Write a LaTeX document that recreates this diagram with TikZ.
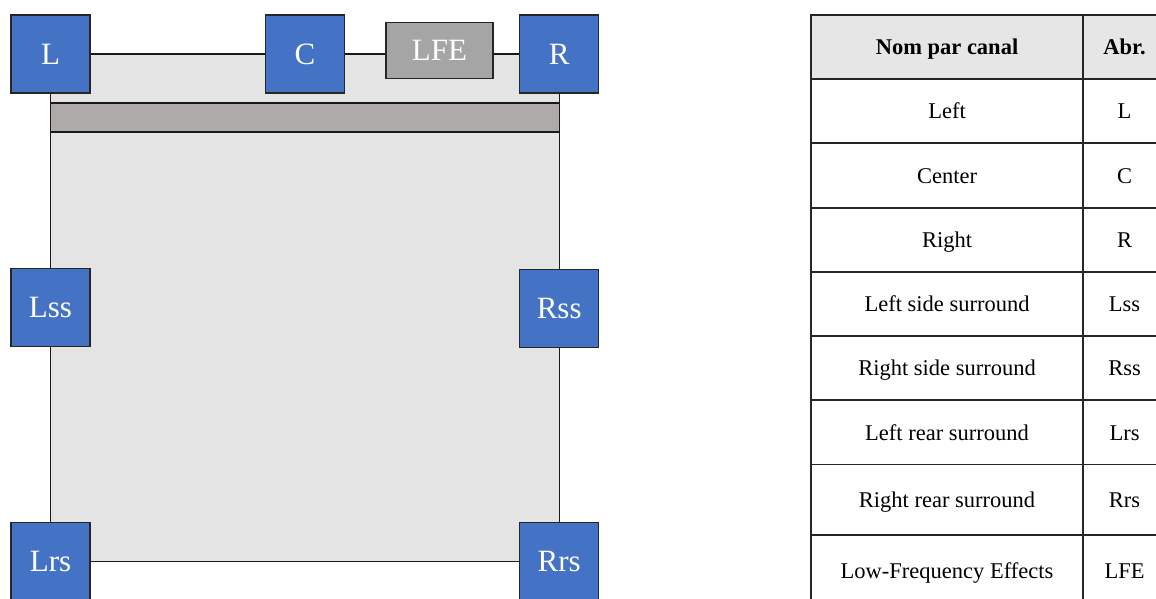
\documentclass[tikz,border=0pt]{standalone}
\usepackage{fontspec}
\setmainfont{Liberation Serif}
\usetikzlibrary{backgrounds}
\definecolor{spk}{HTML}{4472C4}
\definecolor{lfegray}{HTML}{A5A5A5}
\definecolor{roomgray}{HTML}{E4E4E4}
\definecolor{bargray}{HTML}{AEAAAA}
\definecolor{hdrgray}{HTML}{E6E6E6}
\begin{document}
\begin{tikzpicture}[x=1pt,y=-1pt,
  spkbox/.style={draw=black!85, line width=1.5pt, fill=spk, text=white,
    minimum width=79pt, minimum height=78pt, inner sep=0pt,
    font=\fontsize{31}{31}\selectfont},
  lfebox/.style={spkbox, fill=lfegray, minimum width=107pt, minimum height=56pt},
  wire/.style={draw=black!90, line width=1.3pt},
  cell/.style={font=\fontsize{22.5}{27}\selectfont, inner sep=0pt, anchor=base},
  hcell/.style={cell, font=\fontsize{22.5}{27}\selectfont\bfseries},
  gridline/.style={line width=1.8pt, draw=black!85}]
\useasboundingbox (0,0) rectangle (1156,598);
\clip (0,0) rectangle (1156,598);
% speakers
\node[spkbox] (L) at (50.5,54) {L};
\node[spkbox] (C) at (305,54) {C};
\node[lfebox] (LFE) at (439.5,50.7) {LFE};
\node[spkbox] (R) at (559.2,54) {R};
\node[spkbox] (Lss) at (50.5,307.5) {Lss};
\node[spkbox] (Rss) at (559.2,308.3) {Rss};
\node[spkbox] (Lrs) at (50.5,561.7) {Lrs};
\node[spkbox] (Rrs) at (559.2,561.7) {Rrs};
\begin{scope}[on background layer]
  \draw[wire, fill=roomgray] (L.center) -- (C.center) -- (R.center) -- (Rss.center)
     -- (Rrs.center) -- (Lrs.center) -- (Lss.center) -- cycle;
  \draw[wire, fill=bargray] (L.center |- 0,103) rectangle (R.center |- 0,132);
\end{scope}
% table
\fill[hdrgray] (811,15) rectangle (1166,79);
\foreach \y in {15,79,143,208,272,336,400,464.5,535}
  \draw[gridline] (810,\y) -- (1167,\y);
\foreach \x in {811,1083,1166}
  \draw[gridline] (\x,14) -- (\x,606);
\node[hcell] (h1) at (947,54.5) {Nom par canal};
\node[hcell] (h2) at (1124.5,54.5) {Abr.};
\foreach \n/\a/\y [count=\i] in {Left/L/111, Center/C/175.5, Right/R/240,
    Left side surround/Lss/304, Right side surround/Rss/368,
    Left rear surround/Lrs/432.2, Right rear surround/Rrs/499.7,
    Low-Frequency Effects/LFE/570.5} {
  \node[cell] (name\i) at (947,\y+7.8) {\n};
  \node[cell] (abr\i) at (1124.5,\y+7.8) {\a};
}
\end{tikzpicture}
\end{document}
